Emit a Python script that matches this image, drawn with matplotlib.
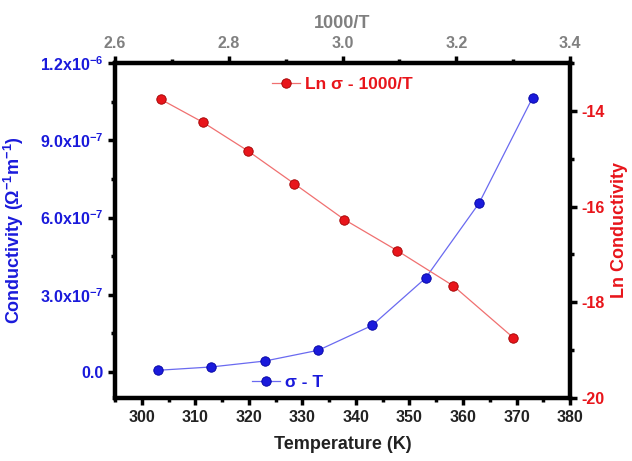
import numpy as np
import matplotlib.pyplot as plt
from matplotlib.ticker import MultipleLocator, AutoMinorLocator

plt.rcParams['font.family'] = ['Liberation Sans', 'DejaVu Sans']
plt.rcParams['font.weight'] = 'bold'
plt.rcParams['mathtext.fontset'] = 'custom'
plt.rcParams['mathtext.rm'] = 'Liberation Sans:bold'
plt.rcParams['mathtext.bf'] = 'Liberation Sans:bold'
plt.rcParams['mathtext.it'] = 'Liberation Sans:bold'
plt.rcParams['mathtext.default'] = 'bf'
plt.rcParams['axes.unicode_minus'] = False

# datos
temperatura = [303, 313, 323, 333, 343, 353, 363, 373]
sigma = [0.007e-6, 0.020e-6, 0.043e-6, 0.085e-6, 0.181e-6, 0.365e-6, 0.656e-6, 1.066e-6]
inv_t = [2.681, 2.755, 2.833, 2.915, 3.003, 3.096, 3.195, 3.300]
ln_sigma = [-13.76, -14.24, -14.83, -15.52, -16.27, -16.92, -17.66, -18.74]

azul = '#1a1adb'
rojo = '#e8151b'
gris = '#808080'

fig = plt.figure(figsize=(6.32, 4.61), dpi=100)
ax = fig.add_axes([0.182, 0.137, 0.720, 0.726])
ax_r = ax.twinx()
ax_t = ax_r.twiny()

l1, = ax.plot(temperatura, sigma, '-o', color='#6a6af0', lw=0.9,
              markersize=6.8, markerfacecolor=azul, markeredgecolor='#0000a0',
              markeredgewidth=0.6, label='σ - T')
l2, = ax_t.plot(inv_t, ln_sigma, '-o', color='#f07070', lw=0.9,
                markersize=6.8, markerfacecolor=rojo, markeredgecolor='#a00000',
                markeredgewidth=0.6, label='Ln σ - 1000/T')

ax.set_xlim(295, 380)
ax.set_ylim(-1e-7, 1.2e-6)
ax_r.set_ylim(-20, -13)
ax_t.set_xlim(2.6, 3.4)

ax.xaxis.set_major_locator(MultipleLocator(10))
ax.xaxis.set_minor_locator(AutoMinorLocator(2))
ax.yaxis.set_major_locator(MultipleLocator(3e-7))
ax.yaxis.set_minor_locator(AutoMinorLocator(2))
ax_r.yaxis.set_major_locator(MultipleLocator(2))
ax_r.yaxis.set_minor_locator(AutoMinorLocator(2))
ax_t.xaxis.set_major_locator(MultipleLocator(0.2))
ax_t.xaxis.set_minor_locator(AutoMinorLocator(2))

def fmt_sigma(v):
    if abs(v) < 1e-12:
        return '0.0'
    e = int(np.floor(np.log10(abs(v))))
    return r'%.1fx10$^{-%d}$' % (v / 10**e, -e)

yt = [0.0, 3e-7, 6e-7, 9e-7, 1.2e-6]
ax.set_yticks(yt)
ax.set_yticklabels([fmt_sigma(v) for v in yt])

for a in (ax, ax_r, ax_t):
    for s in a.spines.values():
        s.set_linewidth(3)
    a.tick_params(which='major', length=5, width=2.5, labelsize=11.5)
    a.tick_params(which='minor', length=3, width=2.5)

ax.tick_params(axis='x', which='both', colors='black', labelcolor='#222222')
ax.tick_params(axis='y', which='both', color='black', labelcolor=azul)
ax_r.tick_params(axis='y', which='both', color='black', labelcolor=rojo)
ax_t.tick_params(axis='x', which='both', color='black', labelcolor=gris)

ax.set_xlabel('Temperature (K)', fontsize=13, fontweight='bold', color='#222222', labelpad=8)
ax.set_ylabel(r'Conductivity ($\Omega^{-1}$m$^{-1}$)', fontsize=13, fontweight='bold',
              color=azul, labelpad=10)
ax_r.set_ylabel('Ln Conductivity', fontsize=13, fontweight='bold', color=rojo, labelpad=4)
ax_t.set_xlabel('1000/T', fontsize=13, fontweight='bold', color=gris, labelpad=6)

ax_t.legend(handles=[l2], loc='center', bbox_to_anchor=(0.5, 0.935), frameon=False,
            fontsize=12.5, handlelength=1.6, handletextpad=0.3, labelcolor=rojo)
ax.legend(handles=[l1], loc='center', bbox_to_anchor=(0.38, 0.045), frameon=False,
          fontsize=12.5, handlelength=1.6, handletextpad=0.3, labelcolor=azul)

fig.savefig('out.png', dpi=100)
